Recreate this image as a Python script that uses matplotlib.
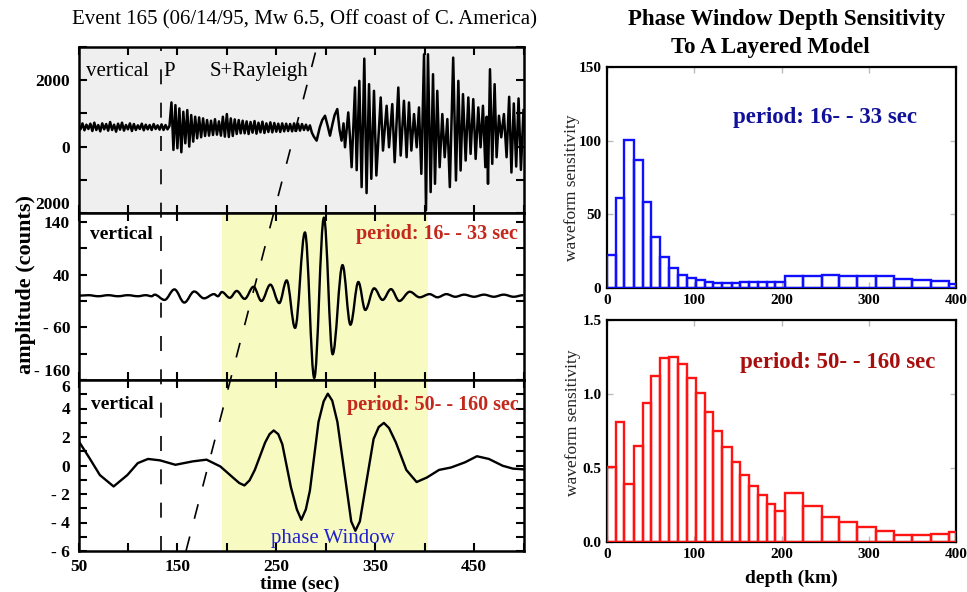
import numpy as np
import matplotlib
matplotlib.use('Agg')
import matplotlib.pyplot as plt
from matplotlib.path import Path
from matplotlib.patches import PathPatch

plt.rcParams['font.family'] = ['Liberation Serif', 'DejaVu Serif']

# ---------------- data ----------------
# broadband vertical record (counts), pre-event noise + P coda sampled every 2 s
raw_noise_t = list(range(50, 144, 2))
raw_noise_v = [640, 520, 700, 490, 660, 530, 690, 470, 720, 500,
               650, 460, 700, 520, 680, 480, 740, 500, 660, 450,
               690, 510, 720, 480, 650, 520, 700, 470, 680, 500,
               640, 530, 690, 490, 660, 520, 650, 500, 680, 530,
               640, 510, 670, 500, 650, 520, 620]
raw_coda_t = list(range(144, 290, 2))
raw_coda_v = [1330, -100, 1250, -50, 1150, -170, 1050, 100, 1100, 0,
              950, 150, 900, 250, 880, 280, 850, 320, 800, 330,
              780, 350, 825, 360, 760, 330, 900, 300, 980, 290,
              850, 320, 820, 380, 800, 400, 780, 400, 760, 380,
              740, 420, 770, 390, 720, 430, 750, 410, 700, 440,
              730, 430, 710, 450, 690, 440, 700, 460, 690, 470,
              680, 460, 700, 470, 690, 480, 680, 500, 660, 490,
              640, 420, 300]
raw_surf_t = [290.8, 294.0, 296.5, 299.3, 302.0, 304.3, 307.0, 309.0, 311.7, 314.0,
              316.0, 318.0, 319.5, 322.8, 324.5, 326.2, 329.6, 331.3, 334.0, 336.3,
              339.0, 341.3, 343.8, 346.1, 348.8, 351.2, 355.6, 357.9, 361.6, 364.0,
              367.3, 369.7, 373.4, 375.8, 379.1, 381.8, 384.2, 386.6, 389.3, 392.0,
              394.3, 396.7, 399.4, 401.4, 403.4, 406.1, 408.5, 410.5, 412.8, 415.2,
              417.9, 420.3, 423.0, 425.5, 428.9, 431.7, 434.1, 436.4, 438.8, 441.5,
              444.2, 446.5, 449.2, 451.6, 454.3, 456.6, 459.0, 461.4, 462.8, 464.1,
              466.1, 468.4, 470.8, 472.8, 475.2, 477.5, 480.2, 482.9, 485.5, 487.8,
              490.2, 492.6, 495.0, 497.4, 500.0]
raw_surf_v = [180, 580, 800, 930, 620, 330, 700, 950, 1130, 500,
              180, 700, -20, 1030, 300, -620, 1780, -710, 1980, -1220,
              2650, -1400, 1880, -970, 1680, -870, 1480, -120, 1230, -20,
              1280, -470, 1780, -270, 1380, -320, 1330, -120, 980, -20,
              1180, -820, 2780, -1920, 2780, -1370, 2180, -1120, 1680, -620,
              980, -320, 830, -1220, 2680, -1020, 1980, -720, 1580, -420,
              1480, -220, 1430, -370, 1180, -20, 1230, -620, 900, -1120,
              2330, -520, 1880, -320, 930, 280, 980, -320, 1500, -780,
              1300, -600, 1450, -700, 1100]

# band-passed 16-33 s record: successive peaks and troughs
mid_t = [50, 60, 70, 80, 90, 100, 110, 118, 124, 127, 137, 147, 157, 167, 177,
         187, 191, 195, 203, 210, 218, 227, 235, 244, 253, 260.5, 269, 279,
         288.4, 298.2, 307, 317, 325, 333, 340, 349, 357.5, 366, 374.4, 385,
         395, 405, 413, 422, 431, 440, 450, 460, 470, 480, 490, 500]
mid_v = [0, 1, -1, 1, -1, 1, -1, 1, -1, 2, -8, 12, -13, 8, -5,
         3, -1, 7, -4, 9, -6, 17, -10, 21, -14, 29, -61, 120,
         -156, 148, -111, 58, -55, 26, -27, 14, -8, 12.5, -10, 7.5,
         -3, 3, -3, 3, -2, 2, -2, 2, -2, 2, -2, 1]

# band-passed 50-160 s record
low_t = [50, 61, 71.6, 85.5, 99.4, 110, 120.3, 132.5, 148, 165.6, 179.5, 193.5,
         207.4, 212.6, 217.8, 223, 228.3, 238.7, 243.2, 247.4, 252, 256.1, 264.8,
         270.8, 275.3, 279.9, 284, 292.7, 297.9, 302.1, 306.6, 311.8, 320.5,
         325.8, 330, 334.5, 339.7, 348.4, 353.6, 358.8, 364, 371, 381.5, 391.9,
         402.4, 414.6, 426.7, 440.7, 452.9, 465, 479, 489.4, 500]
low_v = [1.73, 0.53, -0.67, -1.47, -0.67, 0.17, 0.46, 0.36, 0.05, 0.29, 0.41, -0.07,
         -0.92, -1.23, -1.4, -1.04, -0.31, 1.61, 2.2, 2.46, 2.2, 1.49, -1.52,
         -3.08, -3.81, -3.08, -1.76, 3.06, 4.5, 5.04, 4.55, 3.06, -1.28,
         -3.93, -4.58, -3.93, -1.76, 1.86, 2.7, 2.99, 2.63, 1.61, -0.31, -1.16,
         -0.84, -0.31, -0.14, 0.22, 0.65, 0.46, -0.02, -0.22, -0.27]

p_time = 133
s_line_time = [158.7, 291]          # bottom / top of the S+Rayleigh marker
window = [195, 403]

# depth sensitivity histograms (bin edges in km)
depth_edges = [0, 10, 20, 31, 41, 51, 61, 71, 81, 92, 102, 112, 122, 132, 143,
               153, 163, 173, 183, 193, 204, 225, 246, 266, 287, 308, 329, 350,
               371, 392, 400]
sens_short = [22.6, 61, 100.5, 87, 58.7, 34.5, 21, 13.3, 8.8, 6.5,
              5.2, 4.3, 3.6, 3.4, 3.6, 3.8, 3.8, 3.8, 3.8, 3.8,
              8.4, 8.4, 8.8, 8.1, 7.9, 8.1, 6.1, 5.6, 4.5, 2.9]
sens_long = [0.51, 0.81, 0.39, 0.65, 0.94, 1.12, 1.24, 1.25, 1.20, 1.11,
             1.01, 0.88, 0.75, 0.64, 0.54, 0.45, 0.38, 0.32, 0.26, 0.21,
             0.33, 0.24, 0.17, 0.135, 0.10, 0.072, 0.047, 0.047, 0.052, 0.065]

xtick_pos = [50, 100, 150, 200, 250, 300, 350, 400, 450, 500]
xtick_lab = ['50', '', '150', '', '250', '', '350', '', '450', '']
raw_ticks = [-2000, -1000, 0, 1000, 2000, 3000]
raw_labels = ['2000', '', '0', '', '2000', '']
mid_ticks = [-160, -110, -60, -10, 40, 90, 140]
mid_labels = ['- 160', '', '- 60', '', '40', '', '140']
low_ticks = [-6, -5, -4, -3, -2, -1, 0, 1, 2, 3, 4, 5, 6]
low_labels = ['- 6', '', '- 4', '', '- 2', '', '0', '', '2', '', '4', '', '6']

# ---------------- figure ----------------
W, H = 967, 592
fig = plt.figure(figsize=(W / 100, H / 100), dpi=100)


def box(x0, y0, x1, y1):
    return [x0 / W, 1 - y1 / H, (x1 - x0) / W, (y1 - y0) / H]


def smooth_trace(ax, ts, vs, **kw):
    # draw a peak-to-trough trace with rounded (horizontal-tangent) turns
    verts = [(ts[0], vs[0])]
    codes = [Path.MOVETO]
    for t0, v0, t1, v1 in zip(ts[:-1], vs[:-1], ts[1:], vs[1:]):
        d = (t1 - t0) * 0.36
        verts += [(t0 + d, v0), (t1 - d, v1), (t1, v1)]
        codes += [Path.CURVE4] * 3
    ax.add_patch(PathPatch(Path(verts, codes), fill=False, **kw))


ax1 = fig.add_axes(box(78.5, 47, 523.5, 213))
ax2 = fig.add_axes(box(78.5, 213, 523.5, 380))
ax3 = fig.add_axes(box(78.5, 380, 523.5, 551))

ax1.set_facecolor('#efefef')
ax1.plot(raw_noise_t + raw_coda_t + raw_surf_t,
         raw_noise_v + raw_coda_v + raw_surf_v, color='black', lw=1.8)
ax1.set_ylim(-2000, 3000)

ax2.axvspan(*window, color='#f7fbc2', lw=0)
smooth_trace(ax2, mid_t, mid_v, edgecolor='black', lw=1.7)
ax2.set_ylim(-160, 157)

ax3.axvspan(*window, color='#f7fbc2', lw=0)
ax3.plot(low_t, low_v, color='black', lw=1.7)
ax3.set_ylim(-6, 6)

for ax, yt, yl in ((ax1, raw_ticks, raw_labels), (ax2, mid_ticks, mid_labels),
                   (ax3, low_ticks, low_labels)):
    ax.set_xlim(50, 500)
    ax.set_xticks(xtick_pos)
    ax.set_yticks(yt)
    ax.set_yticklabels(yl, fontweight='bold', fontsize=12.5)
    ax.tick_params(direction='in', length=6, width=1.5, top=True, right=True, pad=6)
    for s in ax.spines.values():
        s.set_linewidth(1.8)
ax1.set_xticklabels([])
ax2.set_xticklabels([])
ax3.set_xticklabels(xtick_lab, fontweight='bold', fontsize=12.5)

# nudge the crowded end labels
ax1.yaxis.get_major_ticks()[0].label1.set_va('bottom')
ax2.yaxis.get_major_ticks()[0].label1.set_va('bottom')
ax3.yaxis.get_major_ticks()[-1].label1.set_va('top')

ax1.text(57.5, 2270, 'vertical', fontsize=15, va='center')
ax1.text(136, 2270, 'P', fontsize=15, va='center')
ax1.text(183, 2270, 'S+Rayleigh', fontsize=15, va='center')
ax2.text(61.5, 117, 'vertical', fontsize=14, fontweight='bold', va='center')
ax2.text(494, 117, 'period: 16- - 33 sec', fontsize=14.5, fontweight='bold',
         color='#c4281c', va='center', ha='right')
ax3.text(62.5, 4.25, 'vertical', fontsize=14, fontweight='bold', va='center')
ax3.text(495, 4.25, 'period: 50- - 160 sec', fontsize=14.5, fontweight='bold',
         color='#c4281c', va='center', ha='right')
ax3.text(307, -5.15, 'phase Window', fontsize=15, color='#2222cc',
         va='center', ha='center')

# dashed P and S+Rayleigh markers across all three panels
ov = fig.add_axes(box(78.5, 47, 523.5, 551))
ov.set_xlim(50, 500)
ov.set_ylim(0, 1)
ov.axis('off')
ov.plot([p_time, p_time], [0, 1], color='black', lw=1.2, dashes=(9, 11))
ov.plot(s_line_time, [0, 1], color='black', lw=1.2, dashes=(9, 11))

fig.text(304 / W, 1 - 20 / H, 'Event 165 (06/14/95, Mw 6.5, Off coast of C. America)',
         fontsize=15, ha='center', va='center')
fig.text(26 / W, 1 - 284 / H, 'amplitude (counts)', fontsize=16, fontweight='bold',
         rotation=90, ha='center', va='center')
fig.text(300 / W, 1 - 584 / H, 'time (sec)', fontsize=14, fontweight='bold',
         ha='center', va='center')

# ---------------- histograms ----------------
ah1 = fig.add_axes(box(607, 67, 956, 288))
ah2 = fig.add_axes(box(607, 320, 956, 542))
left = depth_edges[:-1]
widths = np.diff(depth_edges)
ah1.bar(left, sens_short, width=widths, align='edge', fill=False,
        edgecolor='#1010ff', lw=1.7, zorder=3)
ah2.bar(left, sens_long, width=widths, align='edge', fill=False,
        edgecolor='#ff1414', lw=1.7, zorder=3)
ah1.set_ylim(0, 150)
ah1.set_yticks([0, 50, 100, 150])
ah2.set_ylim(0, 1.5)
ah2.set_yticks([0, 0.5, 1.0, 1.5])
ah2.set_yticklabels(['0.0', '0.5', '1.0', '1.5'])
for ah in (ah1, ah2):
    ah.set_xlim(0, 400)
    ah.set_xticks([0, 100, 200, 300, 400])
    ah.tick_params(direction='in', length=4, width=1, color='#bbbbbb',
                   top=True, right=True, labelsize=11, pad=4)
    for lab in ah.get_xticklabels() + ah.get_yticklabels():
        lab.set_fontweight('bold')
    for s in ah.spines.values():
        s.set_linewidth(1.6)

fig.text(572 / W, 1 - 188 / H, 'waveform sensitivity', fontsize=12.5, color='#222222',
         rotation=90, ha='center', va='center')
fig.text(573 / W, 1 - 423 / H, 'waveform sensitivity', fontsize=12.5, color='#222222',
         rotation=90, ha='center', va='center')

ah1.text(0.36, 0.77, 'period: 16- - 33 sec', transform=ah1.transAxes,
         fontsize=16.5, fontweight='bold', color='#10109a', va='center')
ah2.text(0.38, 0.81, 'period: 50- - 160 sec', transform=ah2.transAxes,
         fontsize=16.5, fontweight='bold', color='#a80e0e', va='center')
fig.text(791 / W, 1 - 578 / H, 'depth (km)', fontsize=14, fontweight='bold',
         ha='center', va='center')

fig.text(787 / W, 1 - 20 / H, 'Phase Window Depth Sensitivity', fontsize=16.5,
         fontweight='bold', ha='center', va='center')
fig.text(770 / W, 1 - 48 / H, 'To A Layered Model', fontsize=16.5,
         fontweight='bold', ha='center', va='center')

fig.savefig('out.png', dpi=100)
